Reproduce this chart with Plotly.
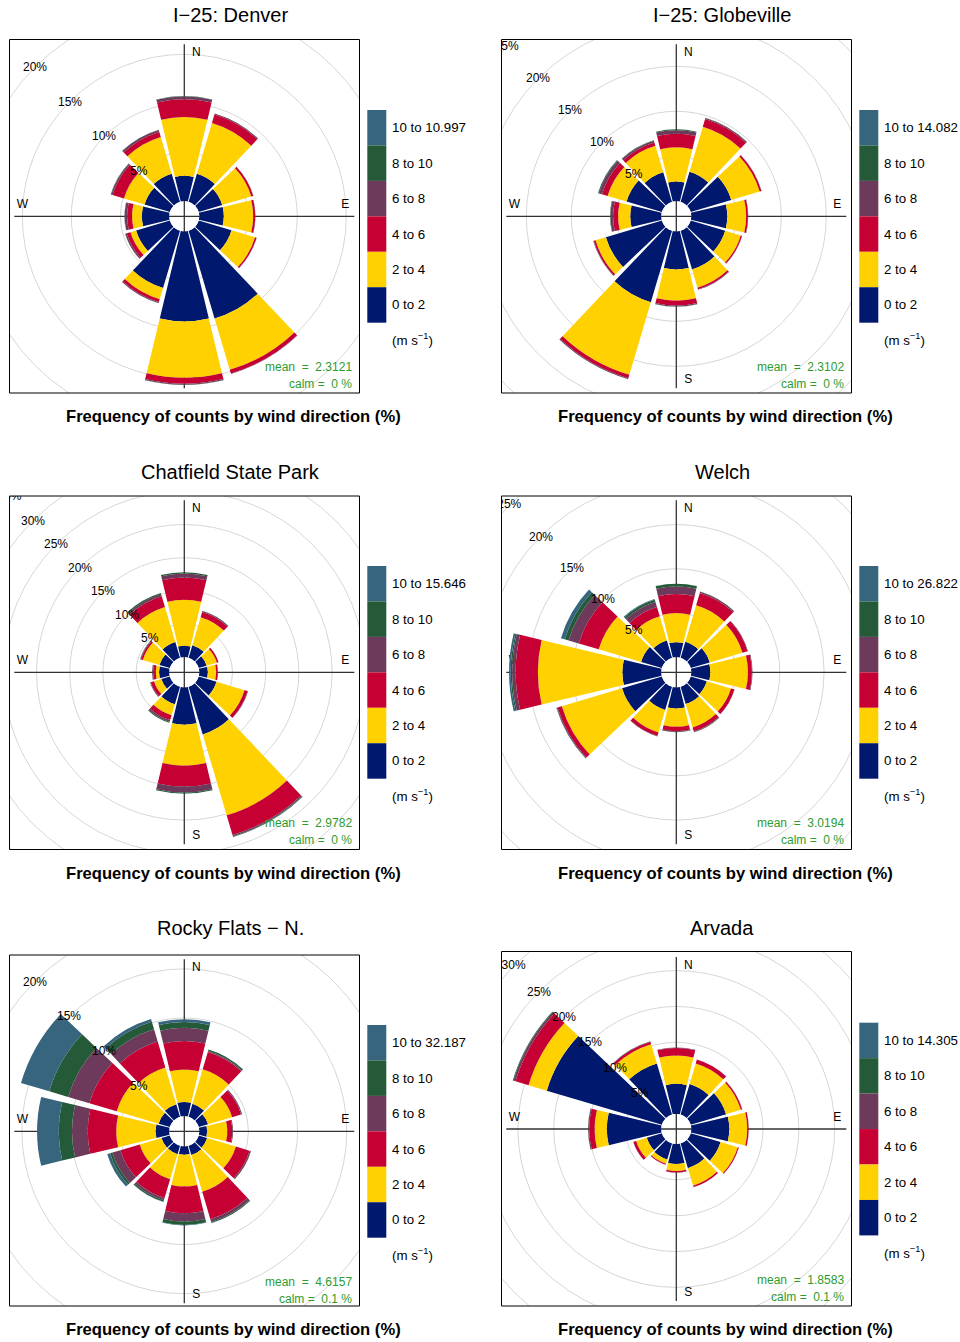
import plotly.graph_objects as go

W, H = 960, 1342
FONT = "Liberation Sans, Arial, Helvetica, sans-serif"

# ---------------- data ----------------
DIRECTIONS = [0, 30, 60, 90, 120, 150, 180, 210, 240, 270, 300, 330]
SPEED_BINS = ["0 to 2", "2 to 4", "4 to 6", "6 to 8", "8 to 10"]
BIN_COLORS = ["#00196E", "#FFD100", "#C60032", "#6E3A5C", "#245A38", "#37657E"]

SITES = ["I−25: Denver", "I−25: Globeville", "Chatfield State Park",
         "Welch", "Rocky Flats − N.", "Arvada"]
TOP_BIN = ["10 to 10.997", "10 to 14.082", "10 to 15.646",
           "10 to 26.822", "10 to 32.187", "10 to 14.305"]
MEAN_SPEED = ["2.3121", "2.3102", "2.9782", "3.0194", "4.6157", "1.8583"]
CALM = ["0", "0", "0", "0", "0.1", "0.1"]

# frequency (%) per speed bin (rows: 0-2, 2-4, 4-6, 6-8, 8-10, 10+) per direction
DENVER = [
    [2.6, 3.0, 2.5, 2.5, 3.5, 9.35, 9.2, 6.1, 3.6, 2.8, 2.7, 3.0],
    [6.0, 5.4, 3.1, 3.0, 2.5, 5.45, 5.75, 1.2, 0.6, 1.0, 2.2, 3.9],
    [1.8, 0.9, 0.2, 0.2, 0.15, 0.4, 0.6, 0.3, 0.4, 0.5, 1.2, 0.55],
    [0.3, 0.1, 0.03, 0.03, 0.03, 0.05, 0.1, 0.1, 0.15, 0.25, 0.15, 0.2],
    [0.03, 0.02, 0, 0, 0, 0, 0.02, 0.02, 0.02, 0.03, 0.05, 0.03],
    [0, 0, 0, 0, 0, 0, 0, 0, 0, 0, 0.01, 0],
]
GLOBEVILLE = [
    [2.2, 3.5, 4.7, 4.0, 4.0, 4.5, 4.25, 8.3, 6.5, 3.45, 4.1, 3.45],
    [3.8, 5.2, 3.3, 2.1, 1.8, 2.1, 3.45, 8.4, 1.2, 1.35, 2.2, 3.05],
    [1.5, 0.9, 0.2, 0.2, 0.15, 0.2, 0.55, 0.4, 0.2, 0.55, 0.65, 0.4],
    [0.4, 0.12, 0.03, 0.03, 0.03, 0.05, 0.1, 0.1, 0.05, 0.3, 0.35, 0.2],
    [0.1, 0.02, 0, 0, 0, 0, 0.02, 0.02, 0.01, 0.05, 0.1, 0.05],
    [0, 0, 0, 0, 0, 0, 0, 0, 0, 0, 0.01, 0],
]
CHATFIELD = [
    [1.75, 2.0, 1.25, 1.3, 2.8, 7.5, 5.65, 2.75, 1.35, 1.55, 1.65, 2.5],
    [6.9, 4.4, 1.6, 1.25, 4.4, 12.7, 6.15, 1.75, 1.15, 0.5, 2.6, 5.5],
    [3.35, 0.8, 0.25, 0.25, 0.5, 3.1, 3.15, 0.75, 0.5, 0.4, 0.3, 1.7],
    [0.6, 0.15, 0.03, 0.03, 0.05, 0.2, 0.9, 0.25, 0.1, 0.15, 0.1, 0.3],
    [0.2, 0.05, 0, 0, 0.01, 0.1, 0.15, 0.15, 0.02, 0.03, 0.05, 0.2],
    [0, 0, 0, 0, 0, 0.01, 0.01, 0, 0, 0, 0, 0.01],
]
WELCH = [
    [1.7, 1.9, 2.25, 2.15, 1.9, 2.05, 2.4, 2.75, 4.7, 4.4, 2.45, 2.05],
    [3.3, 4.3, 3.85, 4.25, 2.85, 2.75, 2.05, 2.65, 7.1, 9.55, 5.0, 2.85],
    [2.15, 1.45, 0.6, 0.45, 0.4, 0.45, 0.5, 0.4, 0.5, 2.5, 2.35, 1.1],
    [0.85, 0.15, 0.05, 0.07, 0.03, 0.1, 0.1, 0.05, 0.1, 0.4, 1.2, 0.6],
    [0.3, 0.03, 0, 0, 0, 0.02, 0.02, 0.01, 0.03, 0.15, 0.45, 0.25],
    [0.02, 0, 0, 0, 0, 0, 0, 0, 0.02, 0.2, 0.45, 0.1],
]
ROCKY_FLATS = [
    [1.45, 1.4, 1.0, 0.8, 0.9, 1.0, 0.85, 0.9, 0.9, 1.4, 1.2, 1.35],
    [3.3, 3.65, 2.55, 2.05, 3.05, 3.9, 3.25, 2.65, 2.3, 4.0, 4.45, 3.9],
    [2.9, 1.85, 0.95, 0.5, 1.45, 2.9, 2.7, 2.0, 2.05, 2.9, 2.9, 2.75],
    [1.35, 0.1, 0.1, 0.08, 0.14, 0.3, 0.85, 0.25, 0.85, 1.6, 2.25, 1.3],
    [0.6, 0.14, 0.02, 0.01, 0.02, 0.1, 0.35, 0.15, 0.25, 1.35, 2.0, 0.8],
    [0.27, 0.02, 0, 0, 0, 0.02, 0.05, 0.03, 0.3, 2.2, 3.0, 0.3],
]
ARVADA = [
    [4.2, 4.45, 5.15, 5.3, 4.35, 3.6, 2.8, 2.35, 2.2, 7.6, 16.75, 7.45],
    [3.95, 3.0, 2.15, 2.5, 2.5, 2.55, 0.95, 0.6, 1.55, 1.7, 2.65, 2.8],
    [1.05, 0.55, 0.2, 0.2, 0.15, 0.2, 0.22, 0.15, 0.4, 0.75, 1.9, 0.35],
    [0.07, 0.03, 0.02, 0.02, 0.02, 0.02, 0.02, 0.02, 0.03, 0.15, 0.3, 0.05],
    [0, 0, 0, 0, 0, 0, 0, 0, 0, 0.02, 0.1, 0.01],
    [0, 0, 0, 0, 0, 0, 0, 0, 0, 0, 0, 0],
]
SITE_DATA = [DENVER, GLOBEVILLE, CHATFIELD, WELCH, ROCKY_FLATS, ARVADA]

# ---------------- layout (pixels) ----------------
PANELS = [
    dict(cx=184.3, cy=216.3, box=(9.5, 39.5, 359.5, 393.0), ppp=9.8),
    dict(cx=676.3, cy=216.3, box=(501.5, 39.5, 851.5, 393.0), ppp=9.0),
    dict(cx=184.3, cy=672.3, box=(9.5, 496.0, 359.5, 849.5), ppp=6.64),
    dict(cx=676.3, cy=672.3, box=(501.5, 496.0, 851.5, 849.5), ppp=8.85),
    dict(cx=184.3, cy=1131.3, box=(9.5, 955.0, 359.5, 1306.0), ppp=9.83),
    dict(cx=676.3, cy=1129.0, box=(501.5, 951.5, 851.5, 1306.0), ppp=7.17),
]
TITLE_Y = [15, 15, 472, 472, 928, 928]
XLAB_Y = [416, 416, 873, 873, 1329, 1329]
HOLE = 15.0   # px
RP = 175.0    # polar radius px


def fx(x):
    return x / W


def fy(y):
    return 1 - y / H


fig = go.Figure()
layout = dict(width=W, height=H, margin=dict(l=0, r=0, t=0, b=0),
              paper_bgcolor="white", plot_bgcolor="white", showlegend=False)
shapes = []
annots = []

for i, (p, data) in enumerate(zip(PANELS, SITE_DATA)):
    n = "" if i == 0 else str(i + 1)
    cx, cy, s = p["cx"], p["cy"], p["ppp"]
    bl, bt, br, bb = p["box"]
    xa, ya = "x" + n, "y" + n

    # cartesian frame used for grid, cross-hair and compass labels (drawn below bars)
    layout["xaxis" + n] = dict(domain=[fx(bl), fx(br)], range=[bl - cx, br - cx],
                               visible=False, anchor=ya, fixedrange=True)
    layout["yaxis" + n] = dict(domain=[fy(bb), fy(bt)], range=[cy - bb, cy - bt],
                               visible=False, anchor=xa, fixedrange=True)

    v = 5
    while HOLE + v * s < 260:
        r = HOLE + v * s
        shapes.append(dict(type="circle", xref=xa, yref=ya, x0=-r, x1=r, y0=-r, y1=r,
                           line=dict(color="#D6D6D6", width=1), layer="below"))
        v += 5
    shapes.append(dict(type="line", xref=xa, yref=ya, x0=-170, x1=170, y0=0, y1=0,
                       line=dict(color="#333333", width=1.3), layer="below"))
    shapes.append(dict(type="line", xref=xa, yref=ya, x0=0, x1=0, y0=-172, y1=172,
                       line=dict(color="#333333", width=1.3), layer="below"))

    fig.add_trace(go.Scatter(x=[12, 161, -162, 12], y=[163, 11, 11, -164],
                             text=["N", "E", "W", "S"], mode="text",
                             textfont=dict(family=FONT, size=12, color="black"),
                             xaxis=xa, yaxis=ya, hoverinfo="skip", cliponaxis=True))

    # percentage labels along the NW diagonal
    clip_x, clip_y, clip_t = [], [], []
    v = 5
    while True:
        r = HOLE + v * s
        lx = -r * 0.7071
        ly = r * 0.7071
        txt = f"{v}%"
        hw = 3.4 * len(txt) + 1
        hh = 7
        if lx + hw < bl - cx or ly - hh > cy - bt:
            break
        if lx - hw >= bl - cx + 1 and ly + hh <= cy - bt - 1:
            annots.append(dict(x=lx, y=ly, xref=xa, yref=ya, text=txt, showarrow=False,
                               font=dict(family=FONT, size=12, color="black"),
                               xanchor="center", yanchor="middle"))
        else:
            clip_x.append(lx)
            clip_y.append(ly)
            clip_t.append(txt)
        v += 5
    if clip_t:
        fig.add_trace(go.Scatter(x=clip_x, y=clip_y, text=clip_t, mode="text",
                                 textfont=dict(family=FONT, size=12, color="black"),
                                 xaxis=xa, yaxis=ya, hoverinfo="skip", cliponaxis=True))

    # wind rose bars
    pname = "polar" + n
    labels = SPEED_BINS + [TOP_BIN[i]]
    for b in range(6):
        fig.add_trace(go.Barpolar(r=data[b], theta=DIRECTIONS, width=27,
                                  marker=dict(color=BIN_COLORS[b], line=dict(width=0)),
                                  name=labels[b], subplot=pname, hoverinfo="skip"))
    layout[pname] = dict(
        domain=dict(x=[fx(cx - RP), fx(cx + RP)], y=[fy(cy + RP), fy(cy - RP)]),
        hole=HOLE / RP, bgcolor="rgba(0,0,0,0)", barmode="stack",
        radialaxis=dict(range=[0, (RP - HOLE) / s], visible=False, showgrid=False),
        angularaxis=dict(rotation=90, direction="clockwise", visible=False, showgrid=False),
    )

    # panel frame
    shapes.append(dict(type="rect", xref="paper", yref="paper", x0=fx(bl), x1=fx(br),
                       y0=fy(bb), y1=fy(bt), line=dict(color="black", width=1), layer="above"))

    # legend
    lt = cy - 106.3
    bh = 35.45
    for k in range(6):
        b = 5 - k
        y0 = lt + k * bh
        shapes.append(dict(type="rect", xref="paper", yref="paper",
                           x0=fx(cx + 183), x1=fx(cx + 202), y0=fy(y0 + bh), y1=fy(y0),
                           fillcolor=BIN_COLORS[b], line=dict(width=0), layer="above"))
        annots.append(dict(x=fx(cx + 206), y=fy(y0 + bh / 2), xref="paper", yref="paper",
                           text=labels[b], showarrow=False, xanchor="left", yanchor="middle",
                           font=dict(family=FONT, size=13.3, color="black")))
    annots.append(dict(x=fx(cx + 206), y=fy(cy + 123), xref="paper", yref="paper",
                       text="(m s<sup>−1</sup>)", showarrow=False, xanchor="left",
                       yanchor="middle", font=dict(family=FONT, size=13.3, color="black")))

    # mean / calm
    annots.append(dict(x=fx(cx + 170), y=fy(cy + 151), xref="paper", yref="paper",
                       text="mean\u00a0\u00a0=\u00a0\u00a0" + MEAN_SPEED[i], showarrow=False,
                       xanchor="right", yanchor="middle",
                       font=dict(family=FONT, size=12, color="#2E9B2E")))
    annots.append(dict(x=fx(cx + 170), y=fy(cy + 168), xref="paper", yref="paper",
                       text="calm =\u00a0\u00a0" + CALM[i] + " %", showarrow=False,
                       xanchor="right", yanchor="middle",
                       font=dict(family=FONT, size=12, color="#2E9B2E")))

    # titles
    annots.append(dict(x=fx(cx + 46), y=fy(TITLE_Y[i]), xref="paper", yref="paper",
                       text=SITES[i], showarrow=False, xanchor="center", yanchor="middle",
                       font=dict(family=FONT, size=20, color="black")))
    annots.append(dict(x=fx(cx + 49), y=fy(XLAB_Y[i]), xref="paper", yref="paper",
                       text="<b>Frequency of counts by wind direction (%)</b>", showarrow=False,
                       xanchor="center", yanchor="middle",
                       font=dict(family=FONT, size=16.6, color="black")))

layout["shapes"] = shapes
layout["annotations"] = annots
fig.update_layout(**layout)
fig.write_html("out.html", config={"displayModeBar": False},
               post_script="document.body.style.margin='0px';")
